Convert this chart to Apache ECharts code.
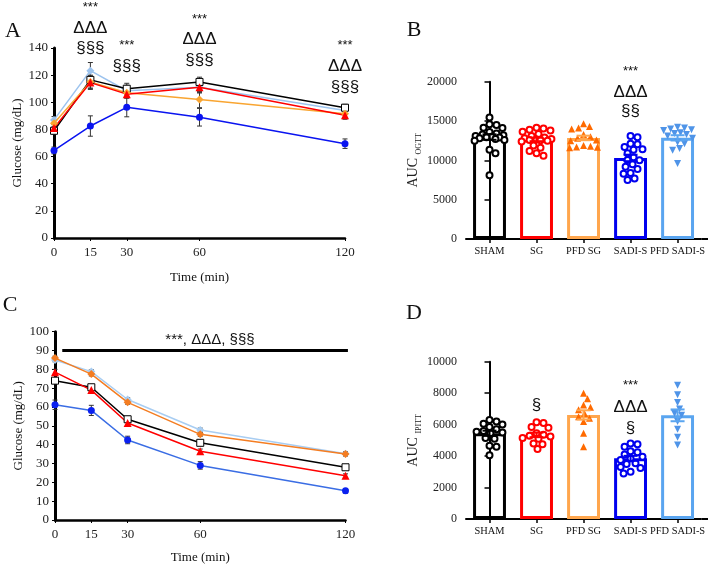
<!DOCTYPE html>
<html><head><meta charset="utf-8">
<script src="https://cdn.jsdelivr.net/npm/echarts@6/dist/echarts.min.js"></script>
<style>html,body{margin:0;padding:0;background:#fff}#c{width:708px;height:578px}</style>
</head><body><div id="c"></div>
<script>
// ---------- data ----------
const groups = ['SHAM', 'SG', 'PFD SG', 'SADI-S', 'PFD SADI-S'];
const timePoints = [0, 15, 30, 60, 120];
const timeTicks = [0, 15, 30, 60, 120];

// Panel A: OGTT glucose (mg/dL)
const ogttSHAM = [79, 116.5, 110, 115, 96];
const ogttSG = [81, 114.5, 106, 111, 90.5];
const ogttPFDSG = [84.5, 115, 107, 102, 91.5];
const ogttSADIS = [64.5, 82.5, 96.3, 89, 69.5];
const ogttPFDSADIS = [87, 123.3, 108.5, 111, 94];
const ogttErrSHAM = [2.5, 6, 4, 3.5, 2.5];
const ogttErrSG = [2.5, 5, 3, 4, 3];
const ogttErrPFDSG = [2.5, 5, 3.5, 6, 3];
const ogttErrSADIS = [2.5, 7.5, 7, 6.5, 3.5];
const ogttErrPFDSADIS = [2.5, 6, 4, 4, 3];

// Panel C: ITT glucose (mg/dL)
const ittSHAM = [74, 70.5, 53.5, 41, 28];
const ittSG = [78.5, 69, 51.5, 36.5, 23.5];
const ittPFDSG = [86, 77.5, 62.5, 45.5, 35];
const ittSADIS = [61.2, 58.2, 42.5, 29, 15.5];
const ittPFDSADIS = [85, 78.8, 64, 47.8, 35.2];
const ittErrSHAM = [1, 1, 1.5, 1.5, 1];
const ittErrSG = [1.5, 1, 1.5, 1.2, 1];
const ittErrPFDSG = [1, 1, 1, 1, 1];
const ittErrSADIS = [2.5, 2.7, 2, 2, 1.2];
const ittErrPFDSADIS = [1, 1, 1, 1, 1];
const ittSigLevel = 90;

// Panel B: AUC OGTT individual values
const aucOgttSHAM = [15450, 14600, 14500, 14150, 14100, 13600, 13400, 13300, 13200, 13100, 13000, 12950, 12900, 12800, 12700, 12600, 12500, 11350, 10900, 8100];
const aucOgttSG = [14150, 14050, 13900, 13800, 13650, 13350, 13100, 12900, 12800, 12700, 12650, 12600, 12550, 12500, 12400, 11900, 11600, 11200, 10900, 10600];
const aucOgttPFDSG = [14650, 14300, 14100, 14000, 13300, 13000, 12800, 12600, 12500, 11900, 11800, 11700, 11650, 11600];
const aucOgttSADIS = [13100, 12950, 12100, 12050, 11700, 11400, 11350, 10900, 10400, 10050, 10000, 9500, 9200, 8900, 8400, 8300, 7500, 7700];
const aucOgttPFDSADIS = [14200, 14100, 14000, 13900, 13800, 13500, 13400, 13300, 13100, 12800, 12300, 12100, 11500, 11300, 9600];

// Panel D: AUC IPITT individual values
const aucIpittSHAM = [6300, 6200, 6050, 6000, 5850, 5700, 5600, 5550, 5500, 5450, 5150, 5100, 4650, 4600, 4050];
const aucIpittSG = [6150, 6100, 5850, 5800, 5450, 5350, 5300, 5250, 5150, 5100, 4800, 4750, 4450];
const aucIpittPFDSG = [8000, 7650, 7250, 7100, 6950, 6700, 6500, 6400, 6200, 5450, 4600];
const aucIpittSADIS = [4800, 4750, 4600, 4300, 4250, 4100, 3950, 3850, 3750, 3550, 3500, 3300, 3250, 3000, 2900];
const aucIpittPFDSADIS = [8500, 7900, 7400, 7000, 6700, 6600, 6200, 5700, 5200, 4700];

// ---------- styles ----------
const SERIF = "'Liberation Serif','Times New Roman',serif";
const SANS = "'Liberation Sans',Arial,sans-serif";
const barColors = ['#000000', '#ff0000', '#ffa64d', '#0000ee', '#5aa5f0'];
const pointStyles = [
  {symbol: 'emptyCircle', size: 6, color: '#000000', rot: 0},
  {symbol: 'emptyCircle', size: 6, color: '#ff0000', rot: 0},
  {symbol: 'triangle', size: 7, color: '#ff6a00', rot: 0},
  {symbol: 'emptyCircle', size: 6, color: '#0000ee', rot: 0},
  {symbol: 'triangle', size: 7, color: '#4f94e8', rot: 180}
];

function mean(a) { return a.reduce((s, v) => s + v, 0) / a.length; }
function sem(a) { const m = mean(a); const v = a.reduce((s, x) => s + (x - m) * (x - m), 0) / (a.length - 1); return Math.sqrt(v / a.length); }

// deterministic beeswarm offsets (pixel -> category units)
function swarm(vals, pxPerVal, pxPerCat, diam, maxOff) {
  const order = vals.map((v, i) => i).sort((a, b) => vals[b] - vals[a]);
  const placed = []; const offs = new Array(vals.length).fill(0);
  for (const i of order) {
    const y = vals[i] * pxPerVal;
    let best = 0, bestD = -1;
    for (let k = 0; k <= maxOff * 2; k++) {
      const c = (k % 2 ? 1 : -1) * Math.ceil(k / 2);
      let md = Infinity;
      for (const p of placed) { const d = Math.hypot(c - p[0], y - p[1]); if (d < md) md = d; }
      if (md >= diam) { best = c; bestD = Infinity; break; }
      if (md > bestD) { bestD = md; best = c; }
    }
    placed.push([best, y]); offs[i] = best / pxPerCat;
  }
  return offs;
}

function errLine(xi, yi, xs, ms, es, color, cap, lw, z) {
  return {
    type: 'custom', xAxisIndex: xi, yAxisIndex: yi, z: z || 5, silent: true,
    data: xs.map((x, i) => [x, ms[i], es[i]]),
    renderItem(params, api) {
      const x = api.value(0), m = api.value(1), e = api.value(2);
      const hi = api.coord([x, m + e]), lo = api.coord([x, m - e]);
      const st = {stroke: color, lineWidth: lw};
      return {type: 'group', children: [
        {type: 'line', shape: {x1: hi[0], y1: hi[1], x2: lo[0], y2: lo[1]}, style: st},
        {type: 'line', shape: {x1: hi[0] - cap, y1: hi[1], x2: hi[0] + cap, y2: hi[1]}, style: st},
        {type: 'line', shape: {x1: lo[0] - cap, y1: lo[1], x2: lo[0] + cap, y2: lo[1]}, style: st}
      ]};
    }
  };
}

function lineS(xi, yi, vals, st) {
  return {
    type: 'line', xAxisIndex: xi, yAxisIndex: yi, data: timePoints.map((t, i) => [t, vals[i]]),
    symbol: st.symbol, symbolSize: st.size, showSymbol: true, z: st.z,
    lineStyle: {color: st.line, width: 1.5},
    itemStyle: {color: st.fill, borderColor: st.border || st.fill, borderWidth: st.bw || 0},
    animation: false
  };
}

const plain = v => String(v);
function timeAxis(gi, gap) {
  return {
    type: 'value', gridIndex: gi, min: 0, max: 120,
    name: 'Time (min)', nameLocation: 'middle', nameGap: gap,
    nameTextStyle: {fontFamily: SERIF, fontSize: 13, color: '#111'},
    axisLine: {show: true, lineStyle: {color: '#000', width: 2.5}},
    axisTick: {show: true, customValues: timeTicks, length: 3, lineStyle: {color: '#000'}},
    axisLabel: {customValues: timeTicks, fontFamily: SERIF, fontSize: 13, color: '#222', margin: 8, formatter: plain},
    splitLine: {show: false}
  };
}
function valAxis(gi, max, step, name, gap) {
  return {
    type: 'value', gridIndex: gi, min: 0, max: max, interval: step,
    name: name, nameLocation: 'middle', nameGap: gap,
    nameTextStyle: {fontFamily: SERIF, fontSize: 13, color: '#111'},
    axisLine: {show: true, lineStyle: {color: '#000', width: 3}},
    axisTick: {show: true, length: 3, lineStyle: {color: '#000'}},
    axisLabel: {fontFamily: SERIF, fontSize: 13, color: '#222', margin: 6, formatter: plain},
    splitLine: {show: false}
  };
}
function catAxis(gi) {
  return {
    type: 'category', gridIndex: gi, data: groups,
    axisLine: {show: true, lineStyle: {color: '#000', width: 2}},
    axisTick: {show: true, alignWithLabel: true, length: 4, lineStyle: {color: '#000', width: 1.5}},
    axisLabel: {fontFamily: SERIF, fontSize: 10.4, color: '#111', margin: 7, interval: 0}
  };
}
function hiddenCatVal(gi) {
  return {type: 'value', gridIndex: gi, min: -0.5, max: 4.5, show: false, splitLine: {show: false}};
}
function aucAxis(gi, max, step, sub) {
  return {
    type: 'value', gridIndex: gi, min: 0, max: max, interval: step,
    name: '{a|AUC }{b|' + sub + '}', nameLocation: 'middle', nameGap: 42,
    nameTextStyle: {rich: {
      a: {fontFamily: SERIF, fontSize: 14, color: '#222', lineHeight: 18, verticalAlign: 'bottom'},
      b: {fontFamily: SERIF, fontSize: 8, color: '#222', lineHeight: 18, verticalAlign: 'bottom', padding: [0, 0, -3, 0]}
    }},
    axisLine: {show: true, lineStyle: {color: '#000', width: 2}},
    axisTick: {show: true, length: 5, lineStyle: {color: '#000', width: 1.5}},
    axisLabel: {fontFamily: SERIF, fontSize: 12, color: '#222', margin: 9, formatter: plain},
    splitLine: {show: false}
  };
}

// bar panel builder
function barPanel(xCat, xVal, yi, sets, pxPerVal) {
  const out = [];
  const means = sets.map(mean), sems = sets.map(sem);
  out.push({
    type: 'bar', xAxisIndex: xCat, yAxisIndex: yi, barWidth: '70%', z: 2, animation: false,
    data: means.map((m, i) => ({value: m, itemStyle: {color: 'rgba(255,255,255,0)', borderColor: barColors[i], borderWidth: 3}}))
  });
  sets.forEach((vals, i) => {
    const offs = swarm(vals, pxPerVal, 47.3, 6.5, 15);
    const ps = pointStyles[i];
    out.push({
      type: 'scatter', xAxisIndex: xVal, yAxisIndex: yi, z: 3, animation: false,
      symbol: ps.symbol, symbolSize: ps.size, symbolRotate: ps.rot,
      itemStyle: {color: ps.color, borderColor: ps.color, borderWidth: ps.symbol === 'emptyCircle' ? 1.8 : 0, opacity: 1},
      data: vals.map((v, k) => [i + offs[k], v])
    });
  });
  sets.forEach((vals, i) => {
    out.push(errLine(xCat, yi, [i], [means[i]], [sems[i]], barColors[i], 7, 2, 4));
  });
  return out;
}

const lineStylesA = [
  {data: ogttPFDSADIS, err: ogttErrPFDSADIS, st: {symbol: 'diamond', size: 8, line: '#9cc3ee', fill: '#9cc3ee', z: 2}},
  {data: ogttSHAM, err: ogttErrSHAM, st: {symbol: 'rect', size: 7, line: '#000', fill: '#fff', border: '#000', bw: 1, z: 3}},
  {data: ogttPFDSG, err: ogttErrPFDSG, st: {symbol: 'diamond', size: 8, line: '#f9a531', fill: '#f9a531', z: 3}},
  {data: ogttSG, err: ogttErrSG, st: {symbol: 'triangle', size: 8, line: '#ff0000', fill: '#ff0000', z: 3}},
  {data: ogttSADIS, err: ogttErrSADIS, st: {symbol: 'circle', size: 7, line: '#0a14f0', fill: '#0a14f0', z: 3}}
];
const lineStylesC = [
  {data: ittPFDSADIS, err: ittErrPFDSADIS, st: {symbol: 'diamond', size: 8, line: '#a8cdf2', fill: '#a8cdf2', z: 2}},
  {data: ittPFDSG, err: ittErrPFDSG, st: {symbol: 'diamond', size: 8, line: '#f47d22', fill: '#f47d22', z: 3}},
  {data: ittSHAM, err: ittErrSHAM, st: {symbol: 'rect', size: 7, line: '#000', fill: '#fff', border: '#000', bw: 1, z: 3}},
  {data: ittSG, err: ittErrSG, st: {symbol: 'triangle', size: 8, line: '#ff0000', fill: '#ff0000', z: 3}},
  {data: ittSADIS, err: ittErrSADIS, st: {symbol: 'circle', size: 7, line: '#3a6de4', fill: '#0a20f0', z: 3}}
];

const series = [];
lineStylesA.forEach(g => { series.push(errLine(0, 0, timePoints, g.data, g.err, '#333', 2.5, 1, 1)); });
lineStylesA.forEach(g => { series.push(lineS(0, 0, g.data, g.st)); });
lineStylesC.forEach(g => { series.push(errLine(3, 2, timePoints, g.data, g.err, '#333', 2.5, 1, 1)); });
lineStylesC.forEach(g => { series.push(lineS(3, 2, g.data, g.st)); });
series.push(...barPanel(1, 2, 1, [aucOgttSHAM, aucOgttSG, aucOgttPFDSG, aucOgttSADIS, aucOgttPFDSADIS], 157.3 / 20000));
series.push(...barPanel(4, 5, 3, [aucIpittSHAM, aucIpittSG, aucIpittPFDSG, aucIpittSADIS, aucIpittPFDSADIS], 157.3 / 10000));

const chart = echarts.init(document.getElementById('c'));
chart.setOption({
  animation: false,
  grid: [
    {left: 54, top: 48, width: 291, height: 190},
    {left: 466, top: 81.7, width: 236.5, height: 157.3},
    {left: 55, top: 331.7, width: 290.5, height: 188.3},
    {left: 466, top: 361.7, width: 236.5, height: 157.3}
  ],
  xAxis: [timeAxis(0, 33), catAxis(1), hiddenCatVal(1), timeAxis(2, 31), catAxis(3), hiddenCatVal(3)],
  yAxis: [valAxis(0, 140, 20, 'Glucose (mg/dL)', 30), aucAxis(1, 20000, 5000, 'OGTT'),
          valAxis(2, 100, 10, 'Glucose (mg/dL)', 30), aucAxis(3, 10000, 2000, 'IPITT')],
  series: series
});

// annotations (panel letters and significance marks)
function pt(xi, yi, x, y) { return chart.convertToPixel({xAxisIndex: xi, yAxisIndex: yi}, [x, y]); }
function txt(x, y, s, size, fam) {
  return {type: 'text', x: x, y: y, silent: true, z: 10,
    style: {text: s, font: size + 'px ' + fam, fill: '#111', textAlign: 'center', textVerticalAlign: 'middle'}};
}
const g = [];
g.push(txt(13, 31, 'A', 22, SERIF), txt(414, 30, 'B', 22, SERIF), txt(10, 305, 'C', 22, SERIF), txt(414, 313, 'D', 22, SERIF));
const aMarks = [
  [15, [['***', 7], ['ΔΔΔ', 28], ['§§§', 48]]],
  [30, [['***', 45], ['§§§', 66]]],
  [60, [['***', 19], ['ΔΔΔ', 39], ['§§§', 60]]],
  [120, [['***', 45], ['ΔΔΔ', 66], ['§§§', 87]]]
];
aMarks.forEach(([t, list]) => {
  const x = pt(0, 0, t, 0)[0];
  list.forEach(([s, y]) => g.push(txt(x, y, s, s === '***' ? 13 : 17, SANS)));
});
const xB = pt(2, 1, 3, 0)[0];
g.push(txt(xB, 71, '***', 13, SANS), txt(xB, 92, 'ΔΔΔ', 17, SANS), txt(xB, 111, '§§', 17, SANS));
const xD1 = pt(5, 3, 1, 0)[0], xD3 = pt(5, 3, 3, 0)[0];
g.push(txt(xD1, 405, '§', 17, SANS));
g.push(txt(xD3, 385, '***', 13, SANS), txt(xD3, 407, 'ΔΔΔ', 17, SANS), txt(xD3, 428, '§', 17, SANS));
// significance bar across panel C
const s0 = pt(3, 2, 3, ittSigLevel), s1 = pt(3, 2, 121, ittSigLevel);
g.push({type: 'line', silent: true, z: 10, shape: {x1: s0[0], y1: s0[1], x2: s1[0], y2: s1[1]}, style: {stroke: '#000', lineWidth: 3}});
g.push(txt(pt(3, 2, 64, 0)[0], s0[1] - 11, '***, ΔΔΔ, §§§', 15, SANS));
// x-axis line extension to the right edge in panels B and D
g.push({type: 'line', silent: true, shape: {x1: 702, y1: 239, x2: 708, y2: 239}, style: {stroke: '#000', lineWidth: 2}});
g.push({type: 'line', silent: true, shape: {x1: 702, y1: 519, x2: 708, y2: 519}, style: {stroke: '#000', lineWidth: 2}});
chart.setOption({graphic: g});
</script>
</body></html>
